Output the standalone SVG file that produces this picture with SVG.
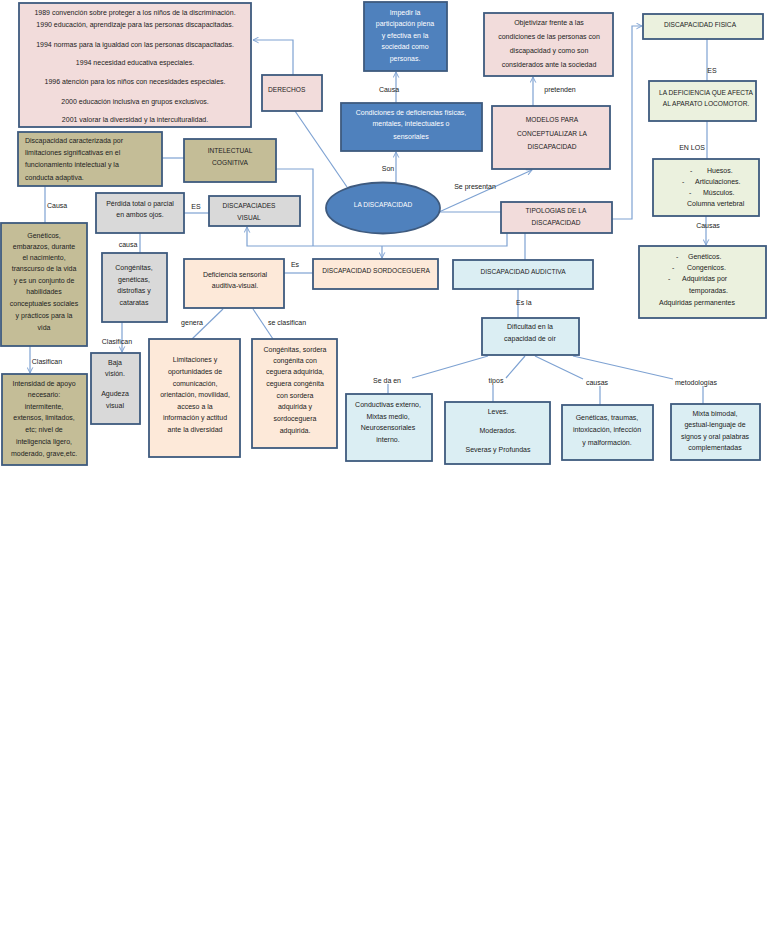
<svg xmlns="http://www.w3.org/2000/svg" width="768" height="932" viewBox="0 0 768 932">
<defs>
<style>
.bx{stroke:#3e5a7e;stroke-width:1.8}
.pk{fill:#f2dcdb}.bl{fill:#4f81bd}.ol{fill:#c4bd97}.gr{fill:#d9d9d9}.pc{fill:#fde9d9}.lb{fill:#dbeef3}.lg{fill:#ebf1de}
text{font-family:"Liberation Sans",Arial,sans-serif;font-size:7px;fill:#222;dominant-baseline:central}
.m{text-anchor:middle}
.w{fill:#fff}
.u{font-size:6.6px}
.c{fill:none;stroke:#7ea2d2;stroke-width:1.2}
</style>
<marker id="ar" viewBox="0 0 10 10" refX="9" refY="5" markerWidth="7" markerHeight="7" markerUnits="userSpaceOnUse" orient="auto">
<path d="M1,1 L9,5 L1,9" fill="none" stroke="#7ea2d2" stroke-width="1.4"/>
</marker>
</defs>
<rect width="768" height="932" fill="#fff"/>

<g id="connectors">
<path class="c" d="M293,75 V40 H253" marker-end="url(#ar)"/>
<path class="c" d="M295,111 L347,187"/>
<path class="c" d="M396,183 V152" marker-end="url(#ar)"/>
<path class="c" d="M396,103 V72" marker-end="url(#ar)"/>
<path class="c" d="M439,212 L532,170" marker-end="url(#ar)"/>
<path class="c" d="M439,212 H501"/>
<path class="c" d="M533,106 V77" marker-end="url(#ar)"/>
<path class="c" d="M612,219 H632 V26 H642" marker-end="url(#ar)"/>
<path class="c" d="M707,39 V81"/>
<path class="c" d="M707,121 V159"/>
<path class="c" d="M706,216 V245" marker-end="url(#ar)"/>
<path class="c" d="M162,158 H184"/>
<path class="c" d="M45,186 V223"/>
<path class="c" d="M184,213 H209"/>
<path class="c" d="M140,233 V253"/>
<path class="c" d="M122,322 V352" marker-end="url(#ar)"/>
<path class="c" d="M30,346 V373" marker-end="url(#ar)"/>
<path class="c" d="M276,169 H313 V246"/>
<path class="c" d="M507,233 V246 H247 V227" marker-end="url(#ar)"/>
<path class="c" d="M382,246 V258" marker-end="url(#ar)"/>
<path class="c" d="M525,233 V260"/>
<path class="c" d="M284,273 H313"/>
<path class="c" d="M223,309 L192,339"/>
<path class="c" d="M253,309 L273,339"/>
<path class="c" d="M518,289 V318"/>
<path class="c" d="M488,356 L412,378 M388,384 V394"/>
<path class="c" d="M525,356 L506,378 M493,385 V402"/>
<path class="c" d="M535,356 L583,379 M600,386 V405"/>
<path class="c" d="M573,356 L673,379 M703,386 V404"/>
</g>

<g id="labels">
<text class="m" x="389" y="89">Causa</text>
<text class="m" x="388" y="168">Son</text>
<text class="m" x="475" y="186">Se presentan</text>
<text class="m" x="560" y="89">pretenden</text>
<text class="m" x="712" y="70">ES</text>
<text class="m" x="692" y="147">EN LOS</text>
<text class="m" x="708" y="225">Causas</text>
<text x="47" y="205">Causa</text>
<text class="m" x="196" y="206">ES</text>
<text class="m" x="128" y="244">causa</text>
<text class="m" x="117" y="341">Clasifican</text>
<text class="m" x="47" y="361">Clasifican</text>
<text class="m" x="295" y="264">Es</text>
<text class="m" x="192" y="322">genera</text>
<text class="m" x="287" y="322">se clasifican</text>
<text x="516" y="302">Es la</text>
<text class="m" x="387" y="380">Se da en</text>
<text class="m" x="496" y="380">tipos</text>
<text class="m" x="597" y="382">causas</text>
<text class="m" x="696" y="382">metodologías</text>
</g>

<g id="rights">
<rect class="bx pk" x="19" y="3" width="232" height="124"/>
<text class="m" x="135" y="12">1989 convención sobre proteger a los niños de la discriminación.</text>
<text class="m" x="135" y="24">1990 educación, aprendizaje para las personas discapacitadas.</text>
<text class="m" x="135" y="44">1994 normas para la igualdad con las personas discapacitadas.</text>
<text class="m" x="135" y="62">1994 necesidad educativa especiales.</text>
<text class="m" x="135" y="81">1996 atención para los niños con necesidades especiales.</text>
<text class="m" x="135" y="101">2000 educación inclusiva en grupos exclusivos.</text>
<text class="m" x="135" y="119">2001 valorar la diversidad y la interculturalidad.</text>
</g>

<g id="derechos">
<rect class="bx pk" x="262" y="75" width="60" height="36"/>
<text class="u" x="268" y="89">DERECHOS</text>
</g>

<g id="impedir">
<rect class="bx bl" x="364" y="2" width="83" height="69"/>
<text class="m w" x="405" y="12">Impedir la</text>
<text class="m w" x="405" y="23.5">participación plena</text>
<text class="m w" x="405" y="35">y efectiva en la</text>
<text class="m w" x="405" y="46.5">sociedad como</text>
<text class="m w" x="405" y="58">personas.</text>
</g>

<g id="condiciones">
<rect class="bx bl" x="341" y="103" width="141" height="48"/>
<text class="m w" x="411" y="112">Condiciones de deficiencias físicas,</text>
<text class="m w" x="411" y="123.5">mentales, intelectuales o</text>
<text class="m w" x="411" y="136">sensoriales</text>
</g>

<g id="discapacidad">
<ellipse class="bx bl" cx="383" cy="208" rx="57" ry="25.5"/>
<text class="m w u" x="383" y="204">LA DISCAPACIDAD</text>
</g>

<g id="objetivizar">
<rect class="bx pk" x="484" y="13" width="129" height="63"/>
<text class="m" x="549" y="22">Objetivizar frente a las</text>
<text class="m" x="549" y="36">condiciones de las personas con</text>
<text class="m" x="549" y="50">discapacidad y como son</text>
<text class="m" x="549" y="64">considerados ante la sociedad</text>
</g>

<g id="modelos">
<rect class="bx pk" x="492" y="106" width="118" height="63"/>
<text class="m u" x="552" y="119">MODELOS PARA</text>
<text class="m u" x="552" y="133">CONCEPTUALIZAR LA</text>
<text class="m u" x="552" y="146">DISCAPACIDAD</text>
</g>

<g id="tipologias">
<rect class="bx pk" x="501" y="202" width="111" height="31"/>
<text class="m u" x="556" y="210">TIPOLOGIAS DE LA</text>
<text class="m u" x="556" y="222">DISCAPACIDAD</text>
</g>

<g id="fisica">
<rect class="bx lg" x="643" y="14" width="120" height="25"/>
<text class="m u" x="700" y="24">DISCAPACIDAD FISICA</text>
</g>

<g id="deficiencia-locomotor">
<rect class="bx lg" x="649" y="81" width="107" height="40"/>
<text class="m u" x="706" y="92">LA DEFICIENCIA QUE AFECTA</text>
<text class="m u" x="706" y="103">AL APARATO LOCOMOTOR.</text>
</g>

<g id="huesos">
<rect class="bx lg" x="653" y="159" width="106" height="57"/>
<text x="690" y="170">-</text><text x="707" y="170">Huesos.</text>
<text x="682" y="181">-</text><text x="695" y="181">Articulaciones.</text>
<text x="689" y="192">-</text><text x="703" y="192">Músculos.</text>
<text x="687" y="203">Columna vertebral</text>
</g>

<g id="causas-fisica">
<rect class="bx lg" x="639" y="246" width="127" height="72"/>
<text x="676" y="256">-</text><text x="688" y="256">Genéticos.</text>
<text x="672" y="267">-</text><text x="687" y="267">Congenicos.</text>
<text x="668" y="278">-</text><text x="682" y="278">Adquiridas por</text>
<text x="689" y="290">temporadas.</text>
<text x="659" y="302">Adquiridas permanentes</text>
</g>

<g id="intelectual-def">
<rect class="bx ol" x="18" y="132" width="144" height="54"/>
<text x="25" y="140">Discapacidad caracterizada por</text>
<text x="25" y="152">limitaciones significativas en el</text>
<text x="25" y="164">funcionamiento intelectual y la</text>
<text x="25" y="177">conducta adaptiva.</text>
</g>

<g id="intelectual">
<rect class="bx ol" x="184" y="139" width="92" height="43"/>
<text class="m u" x="230" y="150">INTELECTUAL</text>
<text class="m u" x="230" y="162">COGNITIVA</text>
</g>

<g id="geneticos-int">
<rect class="bx ol" x="1" y="223" width="86" height="123"/>
<text class="m" x="44" y="235">Genéticos,</text>
<text class="m" x="44" y="246">embarazos, durante</text>
<text class="m" x="44" y="257">el nacimiento,</text>
<text class="m" x="44" y="268">transcurso de la vida</text>
<text class="m" x="44" y="280">y es un conjunto de</text>
<text class="m" x="44" y="291">habilidades</text>
<text class="m" x="44" y="303">conceptuales sociales</text>
<text class="m" x="44" y="315">y prácticos para la</text>
<text class="m" x="44" y="327">vida</text>
</g>

<g id="intensidad">
<rect class="bx ol" x="2" y="374" width="85" height="91"/>
<text class="m" x="44" y="383">Intensidad de apoyo</text>
<text class="m" x="44" y="394">necesario:</text>
<text class="m" x="44" y="406">intermitente,</text>
<text class="m" x="44" y="417">extensos, limitados,</text>
<text class="m" x="44" y="429">etc; nivel de</text>
<text class="m" x="44" y="441">inteligencia ligero,</text>
<text class="m" x="44" y="453">moderado, grave,etc.</text>
</g>

<g id="perdida">
<rect class="bx gr" x="96" y="193" width="88" height="40"/>
<text class="m" x="140" y="203">Pérdida total o parcial</text>
<text class="m" x="140" y="214">en ambos ojos.</text>
</g>

<g id="visual">
<rect class="bx gr" x="209" y="196" width="91" height="30"/>
<text class="m u" x="249" y="205">DISCAPACIADES</text>
<text class="m u" x="249" y="217">VISUAL</text>
</g>

<g id="congenitas-visual">
<rect class="bx gr" x="102" y="253" width="65" height="69"/>
<text class="m" x="134" y="267">Congénitas,</text>
<text class="m" x="134" y="279">genéticas,</text>
<text class="m" x="134" y="290">distrofias y</text>
<text class="m" x="134" y="302">cataratas</text>
</g>

<g id="baja">
<rect class="bx gr" x="91" y="353" width="49" height="71"/>
<text class="m" x="115" y="362">Baja</text>
<text class="m" x="115" y="373">visión.</text>
<text class="m" x="115" y="393">Agudeza</text>
<text class="m" x="115" y="405">visual</text>
</g>

<g id="deficiencia-sensorial">
<rect class="bx pc" x="184" y="259" width="100" height="49"/>
<text class="m" x="235" y="274">Deficiencia sensorial</text>
<text class="m" x="235" y="285">auditiva-visual.</text>
</g>

<g id="limitaciones">
<rect class="bx pc" x="149" y="339" width="91" height="118"/>
<text class="m" x="195" y="359">Limitaciones y</text>
<text class="m" x="195" y="371">oportunidades de</text>
<text class="m" x="195" y="383">comunicación,</text>
<text class="m" x="195" y="394">orientación, movilidad,</text>
<text class="m" x="195" y="406">acceso a la</text>
<text class="m" x="195" y="417">información y actitud</text>
<text class="m" x="195" y="429">ante la diversidad</text>
</g>

<g id="congenitas-sordera">
<rect class="bx pc" x="252" y="339" width="85" height="109"/>
<text class="m" x="295" y="349">Congénitas, sordera</text>
<text class="m" x="295" y="360">congénita con</text>
<text class="m" x="295" y="371">ceguera adquirida,</text>
<text class="m" x="295" y="383">ceguera congénita</text>
<text class="m" x="295" y="395">con sordera</text>
<text class="m" x="295" y="406">adquirida y</text>
<text class="m" x="295" y="418">sordoceguera</text>
<text class="m" x="295" y="430">adquirida.</text>
</g>

<g id="sordoceguera">
<rect class="bx pc" x="313" y="259" width="125" height="30"/>
<text class="m u" x="376" y="270">DISCAPACIDAD SORDOCEGUERA</text>
</g>

<g id="auditiva">
<rect class="bx lb" x="453" y="260" width="140" height="29"/>
<text class="m u" x="523" y="271">DISCAPACIDAD AUDICTIVA</text>
</g>

<g id="dificultad">
<rect class="bx lb" x="482" y="318" width="97" height="37"/>
<text class="m" x="530" y="326">Dificultad en la</text>
<text class="m" x="530" y="338">capacidad de oír</text>
</g>

<g id="conductivas">
<rect class="bx lb" x="346" y="394" width="86" height="67"/>
<text class="m" x="388" y="404">Conductivas externo,</text>
<text class="m" x="388" y="416">Mixtas medio,</text>
<text class="m" x="388" y="427">Neurosensoriales</text>
<text class="m" x="388" y="439">interno.</text>
</g>

<g id="leves">
<rect class="bx lb" x="445" y="402" width="105" height="62"/>
<text class="m" x="498" y="411">Leves.</text>
<text class="m" x="498" y="430">Moderados.</text>
<text class="m" x="498" y="449">Severas y Profundas</text>
</g>

<g id="geneticas-traumas">
<rect class="bx lb" x="562" y="405" width="91" height="55"/>
<text class="m" x="607" y="417">Genéticas, traumas,</text>
<text class="m" x="607" y="429">intoxicación, infección</text>
<text class="m" x="607" y="442">y malformación.</text>
</g>

<g id="mixta">
<rect class="bx lb" x="671" y="404" width="89" height="56"/>
<text class="m" x="715" y="413">Mixta bimodal,</text>
<text class="m" x="715" y="424">gestual-lenguaje de</text>
<text class="m" x="715" y="436">signos y oral palabras</text>
<text class="m" x="715" y="447">complementadas</text>
</g>
</svg>
